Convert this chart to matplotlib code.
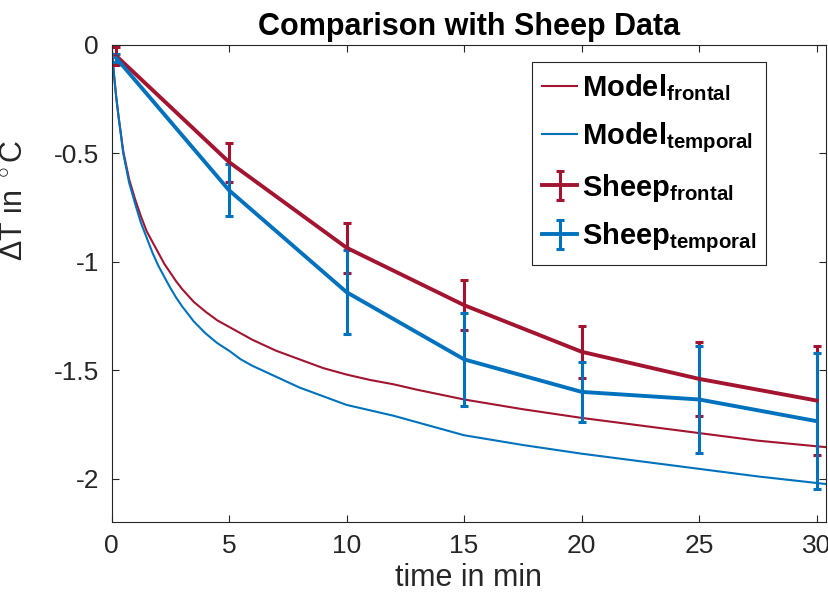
import matplotlib
matplotlib.use('Agg')
import matplotlib.pyplot as plt
from matplotlib.ticker import FixedLocator, FuncFormatter

plt.rcParams['font.family'] = ['Liberation Sans', 'DejaVu Sans']
plt.rcParams['mathtext.fontset'] = 'custom'
plt.rcParams['mathtext.rm'] = 'Liberation Sans'
plt.rcParams['mathtext.bf'] = 'Liberation Sans:bold'
plt.rcParams['mathtext.it'] = 'Liberation Sans:italic'
plt.rcParams['axes.unicode_minus'] = False

# model curves
model_t = [0, 0.1, 0.2, 0.3, 0.5, 0.75, 1, 1.25, 1.5, 1.75, 2, 2.25, 2.5, 2.75, 3, 3.5, 4, 4.5,
           5, 5.5, 6, 6.5, 7, 8, 9, 10, 11, 12, 13, 15, 17.5, 20, 22.5, 25, 27.5, 30.4]
model_frontal = [0, -0.13, -0.24, -0.33, -0.49, -0.62, -0.71, -0.79, -0.86, -0.91, -0.96, -1.01,
                 -1.05, -1.09, -1.125, -1.185, -1.23, -1.27, -1.30, -1.33, -1.36, -1.385, -1.41,
                 -1.45, -1.49, -1.52, -1.545, -1.565, -1.59, -1.635, -1.68, -1.72, -1.755, -1.79,
                 -1.825, -1.855]
model_temporal = [0, -0.13, -0.24, -0.33, -0.5, -0.635, -0.73, -0.82, -0.89, -0.96, -1.02, -1.07,
                  -1.12, -1.165, -1.205, -1.275, -1.33, -1.375, -1.41, -1.45, -1.48, -1.505, -1.53,
                  -1.58, -1.62, -1.66, -1.685, -1.71, -1.74, -1.80, -1.845, -1.885, -1.92, -1.955,
                  -1.99, -2.025]

# sheep measurements
sheep_t = [0.2, 5, 10, 15, 20, 25, 30]
sheep_frontal = [-0.05, -0.54, -0.935, -1.2, -1.415, -1.54, -1.64]
sheep_frontal_err = [0.04, 0.09, 0.115, 0.115, 0.12, 0.17, 0.25]
sheep_temporal = [-0.06, -0.67, -1.14, -1.45, -1.6, -1.635, -1.735]
sheep_temporal_err = [0.02, 0.12, 0.195, 0.215, 0.14, 0.245, 0.315]

red = '#A2142F'
blue = '#0072BD'
axcol = '#262626'

fig = plt.figure(figsize=(8.29, 5.96), dpi=100)
ax = fig.add_axes([0.1345, 0.1242, 0.862, 0.8003])

ax.plot(model_t, model_frontal, color=red, lw=1.5, label=r'$\mathbf{Model}_{\mathbf{frontal}}$')
ax.plot(model_t, model_temporal, color=blue, lw=1.5, label=r'$\mathbf{Model}_{\mathbf{temporal}}$')
ax.errorbar(sheep_t, sheep_frontal, yerr=sheep_frontal_err, color=red, lw=2.8, elinewidth=2.2,
            capsize=3, capthick=2.2, label=r'$\mathbf{Sheep}_{\mathbf{frontal}}$')
ax.errorbar(sheep_t, sheep_temporal, yerr=sheep_temporal_err, color=blue, lw=2.8, elinewidth=2.2,
            capsize=3, capthick=2.2, label=r'$\mathbf{Sheep}_{\mathbf{temporal}}$')

ax.set_xlim(0, 30.4)
ax.set_ylim(-2.2, 0)
ax.xaxis.set_major_locator(FixedLocator([0, 5, 10, 15, 20, 25, 30]))
ax.yaxis.set_major_locator(FixedLocator([0, -0.5, -1, -1.5, -2]))
ax.yaxis.set_major_formatter(FuncFormatter(lambda v, p: '%g' % v))
ax.tick_params(direction='in', length=5, width=0.8, colors=axcol, labelsize=19,
               top=True, right=True, pad=9)
for s in ax.spines.values():
    s.set_color(axcol)
    s.set_linewidth(0.8)

ax.set_title('Comparison with Sheep Data', fontsize=22, fontweight='bold', pad=7)
ax.set_xlabel('time in min', fontsize=22, color=axcol, labelpad=3)
ax.set_ylabel(r'$\Delta$T in $^\circ$C', fontsize=22, color=axcol)
ax.yaxis.set_label_coords(-0.115, 0.675)

leg = ax.legend(loc='upper right', bbox_to_anchor=(0.916, 0.964), borderaxespad=0,
                fontsize=21, handlelength=1.2, handletextpad=0.15, labelspacing=0.58,
                borderpad=0.35, fancybox=False, framealpha=1, edgecolor=axcol)
leg.get_frame().set_linewidth(0.8)

fig.savefig('out.png', dpi=100)
